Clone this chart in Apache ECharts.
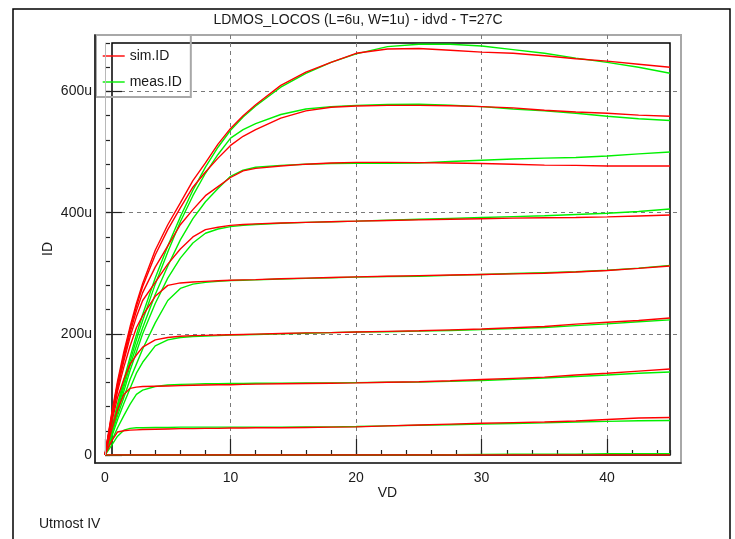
<!DOCTYPE html>
<html>
<head>
<meta charset="utf-8">
<script src="https://cdn.jsdelivr.net/npm/echarts@6/dist/echarts.min.js"></script>
<style>
  html, body { margin: 0; padding: 0; background: #fff; }
  #chart { width: 735px; height: 539px; }
</style>
</head>
<body>
<div id="chart"></div>
<script>
// VD sweep (V) shared by all curves
const vd = [0, 0.5, 1, 1.5, 2, 2.5, 3, 4, 5, 6, 7, 8, 9, 10, 11, 12, 14, 16, 18, 20, 22.5, 25, 27.5, 30, 32.5, 35, 37.5, 40, 42.5, 45];

// simulated ID (uA), one array per gate step
const sim0 = [0, 0, 0, 0, 0, 0, 0, 0, 0, 0, 0, 0, 0, 0, 0, 0, 0, 0, 0, 0, 0, 0, 0, 0, 0, 0, 0, 0, 0, 0];
const sim1 = [0, 22, 38, 40, 41, 41.5, 42, 42.5, 43, 43.5, 43.5, 44, 44, 44.5, 44.5, 45, 45, 45.5, 46, 46.5, 48, 49.5, 51, 52.5, 53.5, 54.5, 56, 58.5, 61, 62];
const sim2 = [0, 40, 75, 100, 110, 112, 113, 113.5, 114, 114.5, 115, 115.5, 116, 116, 116.5, 117, 117.5, 118, 118.5, 119, 120, 121, 122.5, 124.5, 126.5, 128.5, 132, 135, 138.5, 142];
const sim3 = [0, 50, 95, 125, 150, 165, 178, 190, 194, 196, 197, 197.5, 198, 198.5, 199, 199.5, 200.5, 201.5, 202, 203, 204, 205, 206.5, 208, 210, 212, 216, 219, 222, 226];
const sim4 = [0, 55, 105, 145, 180, 210, 230, 262, 280, 284, 285.5, 286.5, 287.5, 288.5, 289, 289.5, 291, 292, 293, 294, 295, 296, 297, 298, 299, 300, 302, 304.5, 308, 312];
const sim5 = [0, 58, 110, 155, 195, 228, 255, 285, 315, 340, 360, 372, 376, 379, 380.5, 381.5, 383, 384, 385, 386, 387, 388, 389, 390, 391, 391.5, 392, 393, 394.5, 396];
const sim6 = [0, 60, 115, 160, 202, 238, 268, 310, 345, 380, 405, 428, 443, 458, 469, 473, 477, 480, 482, 483, 483, 482.5, 482, 481, 480, 478.5, 478, 477, 477, 477];
const sim7 = [0, 62, 118, 165, 208, 245, 278, 330, 372, 408, 442, 467, 490, 511, 526, 537, 556, 568, 574, 576, 577, 577, 576.5, 575, 573, 569, 566, 564, 561, 559];
const sim8 = [0, 65, 122, 170, 212, 250, 283, 338, 380, 416, 453, 482, 513, 539, 560, 578, 610, 632, 648, 663, 670, 671, 668, 665, 663, 659, 654, 650, 645, 640];

// measured ID (uA)
const meas0 = [0, 0, 0, 0, 0, 0, 0, 0, 0, 0, 0, 0, 0, 0, 0, 0, 0, 0, 0, 0, 0, 0, 0.5, 1, 1.5, 1.5, 1.5, 2, 2, 2];
const meas1 = [0, 15, 31, 41, 44, 45, 45, 45.5, 45.5, 46, 46, 46, 46, 46, 46, 46, 46, 46.5, 46.5, 47, 48, 49, 50, 51, 52, 53, 54.5, 55.5, 56.5, 57];
const meas2 = [0, 22, 45, 65, 84, 100, 107, 113, 115.5, 116.5, 117, 117.5, 117.5, 118, 118, 118.5, 118.5, 119, 119, 119.5, 120, 120.5, 121.5, 123, 125, 127, 129.5, 132, 135, 137];
const meas3 = [0, 28, 58, 85, 110, 135, 153, 180, 190, 194, 195.5, 196.5, 197, 198, 198.5, 199, 200, 201, 202, 203, 203.5, 204.5, 205.5, 207, 208.5, 210.5, 213.5, 216.5, 220, 223];
const meas4 = [0, 32, 65, 95, 125, 150, 175, 218, 255, 275, 282, 285, 286.5, 288, 288.5, 289, 290.5, 291.5, 292.5, 293.5, 294.5, 295, 296.5, 298, 299.5, 301, 302.5, 305, 308.5, 313];
const meas5 = [0, 35, 70, 105, 140, 170, 200, 250, 292, 325, 350, 366, 373, 377, 379, 380.5, 382.5, 384, 385, 386, 387.5, 389, 390.5, 392, 393.5, 395, 397, 399, 402, 406];
const meas6 = [0, 38, 75, 112, 148, 180, 210, 265, 312, 355, 390, 418, 440, 460, 470, 475, 478, 480, 481, 481.5, 481.5, 482, 484.5, 486.5, 488.5, 490, 491, 493.5, 497, 500];
const meas7 = [0, 40, 80, 118, 155, 190, 222, 282, 335, 385, 428, 465, 496, 523, 537, 547, 562, 571, 575, 577, 578.5, 579, 577.5, 575, 571, 568, 564, 559, 555, 552];
const meas8 = [0, 42, 84, 124, 162, 198, 232, 292, 345, 393, 437, 475, 508, 536, 558, 576, 607, 630, 648, 662, 674, 678, 678, 675, 669, 663, 655, 648, 640, 630];

const simCurves = [sim0, sim1, sim2, sim3, sim4, sim5, sim6, sim7, sim8];
const measCurves = [meas0, meas1, meas2, meas3, meas4, meas5, meas6, meas7, meas8];

const FONT = 'Liberation Sans';
const TXT = '#1a1a1a';
const RED = '#ff0000';
const GREEN = '#00f000';

const chart = echarts.init(document.getElementById('chart'));

const toPts = ys => vd.map((x, k) => [x, ys[k]]);

const makeSeries = (name, color, curves, z) => curves.map(ys => ({
  name: name,
  type: 'line',
  xAxisIndex: 0,
  yAxisIndex: 0,
  data: toPts(ys),
  symbol: 'none',
  color: color,
  itemStyle: { color: color },
  lineStyle: { color: color, width: 1.4 },
  z: z,
  silent: true,
  animation: false
}));

const measSeries = makeSeries('meas.ID', GREEN, measCurves, 3);
const simSeries = makeSeries('sim.ID', RED, simCurves, 4);

// thin line at VD = 0
measSeries[0].markLine = {
  silent: true,
  symbol: 'none',
  label: { show: false },
  lineStyle: { color: '#b8b8b8', width: 1, type: 'solid' },
  data: [{ xAxis: 0 }]
};

const hidden = { show: false };
const noAxis = {
  axisLine: hidden, axisTick: hidden, axisLabel: hidden, splitLine: hidden
};

chart.setOption({
  animation: false,
  backgroundColor: '#fff',
  title: [
    {
      text: 'LDMOS_LOCOS (L=6u, W=1u) - idvd - T=27C',
      left: 358, top: 13, textAlign: 'center', padding: 0,
      textStyle: { fontFamily: FONT, fontSize: 14, fontWeight: 'normal', color: TXT }
    },
    {
      text: 'Utmost IV',
      left: 39, top: 517, padding: 0,
      textStyle: { fontFamily: FONT, fontSize: 14, fontWeight: 'normal', color: TXT }
    }
  ],
  legend: {
    data: ['sim.ID', 'meas.ID'],
    orient: 'vertical',
    left: 96, top: 35,
    padding: [14, 9, 8, 6],
    itemGap: 12,
    itemWidth: 22,
    itemHeight: 14,
    borderColor: '#a8a8a8',
    borderWidth: 2,
    selectedMode: false,
    itemStyle: { opacity: 0 },
    lineStyle: { width: 1.4 },
    textStyle: { fontFamily: FONT, fontSize: 14, color: TXT }
  },
  graphic: [{
    type: 'rect',
    silent: true,
    shape: { x: 13, y: 9, width: 717, height: 545 },
    style: { fill: null, stroke: '#000', lineWidth: 1.5 }
  }],
  grid: [
    { left: 105, right: 65, top: 43, bottom: 84, outerBoundsMode: 'none' },      // data
    { left: 105, right: 128, top: 91.5, bottom: 84, outerBoundsMode: 'none' },   // major ticks + labels
    { left: 105, right: 54, top: 35, bottom: 84, outerBoundsMode: 'none' },      // dashed grid lines
    { left: 95, right: 54, top: 35, bottom: 76, outerBoundsMode: 'none',
      show: true, borderColor: '#a8a8a8', borderWidth: 2 },                       // outer frame
    { left: 112, right: 65, top: 43, bottom: 84, outerBoundsMode: 'none',
      show: true, borderColor: '#000', borderWidth: 1.5 }                         // inner box
  ],
  xAxis: [
    {
      gridIndex: 0, type: 'value', min: 0, max: 45, interval: 2, offset: 8,
      axisLine: hidden,
      axisTick: { show: true, inside: true, length: 5, lineStyle: { color: '#222', width: 1.2 } },
      axisLabel: hidden, splitLine: hidden,
      name: 'VD', nameLocation: 'middle', nameGap: 23,
      nameTextStyle: { fontFamily: FONT, fontSize: 14, color: TXT }
    },
    {
      gridIndex: 1, type: 'value', min: 0, max: 40, interval: 10, offset: 8,
      axisLine: hidden,
      axisTick: { show: true, inside: true, length: 16, lineStyle: { color: '#222', width: 1.2 } },
      axisLabel: { show: true, margin: 8, fontFamily: FONT, fontSize: 14, color: TXT },
      splitLine: hidden
    },
    {
      gridIndex: 2, type: 'value', min: 0, max: 45.88, interval: 10,
      axisLine: hidden, axisTick: hidden, axisLabel: hidden,
      splitLine: { show: true, showMinLine: false, showMaxLine: false,
        lineStyle: { color: '#7a7a7a', width: 1, type: [4, 4] } }
    },
    {
      gridIndex: 3, type: 'value', min: 0, max: 1, z: 5,
      axisLine: { show: true, lineStyle: { color: '#222', width: 1.5 } },
      axisTick: hidden, axisLabel: hidden, splitLine: hidden
    },
    Object.assign({ gridIndex: 4, type: 'value', min: 0, max: 1 }, noAxis)
  ],
  yAxis: [
    {
      gridIndex: 0, type: 'value', min: 0, max: 680, interval: 40, offset: 10,
      axisLine: hidden,
      axisTick: { show: true, inside: true, length: 5, lineStyle: { color: '#222', width: 1.2 } },
      axisLabel: hidden, splitLine: hidden,
      name: 'ID', nameLocation: 'middle', nameGap: 40,
      nameTextStyle: { fontFamily: FONT, fontSize: 14, color: TXT }
    },
    {
      gridIndex: 1, type: 'value', min: 0, max: 600, interval: 200, offset: 10,
      axisLine: hidden,
      axisTick: { show: true, inside: true, length: 17, lineStyle: { color: '#222', width: 1.2 } },
      axisLabel: {
        show: true, margin: 3, fontFamily: FONT, fontSize: 14, color: TXT,
        formatter: v => (v === 0 ? '0' : v + 'u')
      },
      splitLine: hidden
    },
    {
      gridIndex: 2, type: 'value', min: 0, max: 693.2, interval: 200,
      axisLine: hidden, axisTick: hidden, axisLabel: hidden,
      splitLine: { show: true, showMinLine: false, showMaxLine: false,
        lineStyle: { color: '#7a7a7a', width: 1, type: [4, 4] } }
    },
    {
      gridIndex: 3, type: 'value', min: 0, max: 1, z: 5,
      axisLine: { show: true, lineStyle: { color: '#111', width: 1.5 } },
      axisTick: hidden, axisLabel: hidden, splitLine: hidden
    },
    Object.assign({ gridIndex: 4, type: 'value', min: 0, max: 1 }, noAxis)
  ],
  series: measSeries.concat(simSeries)
});
</script>
</body>
</html>
